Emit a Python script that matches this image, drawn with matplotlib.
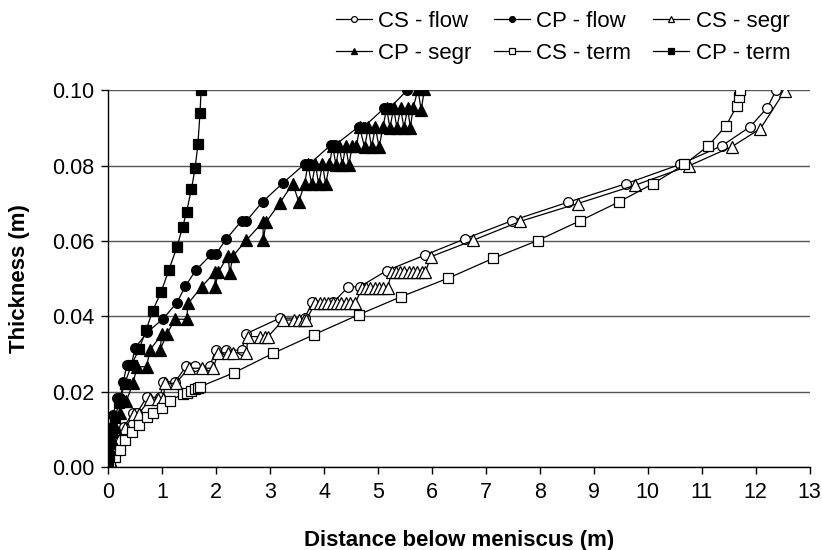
import matplotlib
matplotlib.use("Agg")
import matplotlib.pyplot as plt
from matplotlib.ticker import FormatStrFormatter

plt.rcParams['font.family'] = ['Liberation Sans', 'DejaVu Sans']

# ---- data: distance below meniscus (m) vs. shell thickness (m) ----
cs_flow_x = [0.00, 0.03, 0.09, 0.19, 0.29, 0.45, 0.53, 0.71, 0.96, 1.02, 1.24,
             1.44, 1.61, 1.88, 1.99, 2.19, 2.47, 2.56, 3.18, 3.64, 3.78, 4.17,
             4.45, 4.66, 5.16, 5.88, 6.62, 7.49, 8.53, 9.60, 10.60, 11.38,
             11.90, 12.22, 12.38]
cs_flow_y = [0.0000, 0.0020, 0.0045, 0.0072, 0.0106, 0.0143, 0.0143, 0.0185,
             0.0185, 0.0226, 0.0226, 0.0267, 0.0267, 0.0267, 0.0310, 0.0310,
             0.0310, 0.0354, 0.0395, 0.0395, 0.0437, 0.0437, 0.0478, 0.0478,
             0.0521, 0.0563, 0.0606, 0.0654, 0.0703, 0.0752, 0.0803, 0.0853,
             0.0903, 0.0954, 0.1000]

cp_flow_x = [0.00, 0.00, 0.00, 0.03, 0.06, 0.09, 0.16, 0.22, 0.28, 0.34, 0.43,
             0.49, 0.72, 1.02, 1.27, 1.43, 1.62, 1.91, 1.99, 2.18, 2.47, 2.56,
             2.86, 3.24, 3.64, 3.73, 4.12, 4.20, 4.64, 4.74, 5.12, 5.22, 5.54]
cp_flow_y = [0.0000, 0.0020, 0.0045, 0.0072, 0.0107, 0.0138, 0.0182, 0.0182,
             0.0226, 0.0270, 0.0270, 0.0315, 0.0357, 0.0394, 0.0436, 0.0480,
             0.0522, 0.0564, 0.0564, 0.0604, 0.0653, 0.0653, 0.0704, 0.0754,
             0.0804, 0.0804, 0.0854, 0.0854, 0.0903, 0.0903, 0.0953, 0.0953,
             0.1000]

cs_segr_x = [0.00, 0.03, 0.10, 0.20, 0.31, 0.48, 0.56, 0.77, 0.93, 1.02, 1.05,
             1.25, 1.49, 1.73, 1.94, 2.04, 2.22, 2.31, 2.56, 2.59, 2.81, 2.90,
             2.96, 3.24, 3.45, 3.53, 3.62, 3.67,
             3.83, 3.92, 4.00, 4.08, 4.16, 4.24, 4.32, 4.40, 4.48, 4.57,
             4.71, 4.78, 4.86, 4.94, 5.02, 5.10, 5.18,
             5.25, 5.33, 5.41, 5.49, 5.57, 5.65, 5.73, 5.81, 5.88,
             5.98, 6.77, 7.64, 8.70, 9.77, 10.76, 11.56, 12.09, 12.54]
cs_segr_y = [0.0000, 0.0019, 0.0045, 0.0072, 0.0104, 0.0140, 0.0140, 0.0180,
             0.0180, 0.0180, 0.0222, 0.0222, 0.0262, 0.0262, 0.0262, 0.0303,
             0.0303, 0.0303, 0.0303, 0.0346, 0.0346, 0.0346, 0.0346, 0.0390,
             0.0390, 0.0390, 0.0390, 0.0390,
             0.0434, 0.0434, 0.0434, 0.0434, 0.0434, 0.0434, 0.0434, 0.0434,
             0.0434, 0.0434,
             0.0474, 0.0474, 0.0474, 0.0474, 0.0474, 0.0474, 0.0474,
             0.0518, 0.0518, 0.0518, 0.0518, 0.0518, 0.0518, 0.0518, 0.0518,
             0.0518,
             0.0558, 0.0602, 0.0652, 0.0699, 0.0748, 0.0799, 0.0850, 0.0898,
             0.0998]

cp_segr_x = [0.00, 0.01, 0.04, 0.07, 0.12, 0.21, 0.27, 0.33, 0.46, 0.53, 0.71,
             0.77, 0.99, 0.96, 1.08, 1.24, 1.45, 1.48, 1.73, 1.98, 1.98, 2.04,
             2.22, 2.25, 2.31, 2.56, 2.87, 2.87, 2.93, 3.18, 3.42, 3.53, 3.64,
             3.70, 3.77, 3.84, 3.90, 3.97, 4.03, 4.10,
             4.16, 4.22, 4.28, 4.34, 4.40, 4.46, 4.52, 4.60,
             4.66, 4.75, 4.82, 4.88, 4.95, 5.02, 5.09,
             5.16, 5.22, 5.29, 5.35, 5.42, 5.48, 5.55, 5.60, 5.65,
             5.74, 5.80, 5.86]
cp_segr_y = [0.0000, 0.0022, 0.0045, 0.0072, 0.0107, 0.0142, 0.0174, 0.0174,
             0.0222, 0.0266, 0.0266, 0.0310, 0.0352, 0.0310, 0.0352, 0.0392,
             0.0392, 0.0434, 0.0478, 0.0518, 0.0478, 0.0518, 0.0560, 0.0515,
             0.0560, 0.0602, 0.0651, 0.0602, 0.0651, 0.0701, 0.0752, 0.0704,
             0.0752,
             0.0803, 0.0750, 0.0803, 0.0750, 0.0803, 0.0750, 0.0803,
             0.0852, 0.0801, 0.0852, 0.0801, 0.0852, 0.0801, 0.0852, 0.0852,
             0.0901, 0.0849, 0.0901, 0.0849, 0.0901, 0.0849, 0.0901,
             0.0952, 0.0900, 0.0952, 0.0900, 0.0952, 0.0900, 0.0952, 0.0900,
             0.0952,
             0.1002, 0.0947, 0.1002]

cs_term_x = [0.00, 0.03, 0.12, 0.22, 0.31, 0.43, 0.56, 0.71, 0.83, 0.99, 1.14,
             1.39, 1.45, 1.54, 1.60, 1.66, 1.70, 2.33, 3.06, 3.81, 4.64, 5.43,
             6.30, 7.14, 7.96, 8.74, 9.46, 10.10, 10.68, 11.12, 11.45, 11.65,
             11.69, 11.71]
cs_term_y = [0.0000, 0.0010, 0.0027, 0.0045, 0.0072, 0.0094, 0.0111, 0.0132,
             0.0142, 0.0156, 0.0176, 0.0194, 0.0197, 0.0202, 0.0207, 0.0210,
             0.0213, 0.0250, 0.0302, 0.0351, 0.0404, 0.0452, 0.0501, 0.0554,
             0.0601, 0.0653, 0.0703, 0.0752, 0.0803, 0.0852, 0.0905, 0.0958,
             0.0982, 0.1000]

cp_term_x = [0.00, 0.01, 0.03, 0.06, 0.12, 0.20, 0.30, 0.43, 0.57, 0.70, 0.82,
             0.98, 1.12, 1.27, 1.38, 1.45, 1.54, 1.61, 1.66, 1.70, 1.72]
cp_term_y = [0.0000, 0.0030, 0.0060, 0.0090, 0.0130, 0.0170, 0.0220, 0.0271,
             0.0313, 0.0363, 0.0414, 0.0465, 0.0522, 0.0583, 0.0638, 0.0677,
             0.0737, 0.0794, 0.0856, 0.0940, 0.1000]

x_ticks = list(range(0, 14))
y_ticks = [0.00, 0.02, 0.04, 0.06, 0.08, 0.10]

# ---- figure ----
fig = plt.figure(figsize=(8.22, 5.50), dpi=100)
ax = fig.add_axes([0.1318, 0.151, 0.853, 0.685])

lw = 0.9
common = dict(color='black', linewidth=lw, markeredgecolor='black',
              markeredgewidth=0.9)

h_csf, = ax.plot(cs_flow_x, cs_flow_y, marker='o', markersize=7,
                 markerfacecolor='white', label='CS - flow', **common)
h_cpf, = ax.plot(cp_flow_x, cp_flow_y, marker='o', markersize=7,
                 markerfacecolor='black', label='CP - flow', **common)
h_css, = ax.plot(cs_segr_x, cs_segr_y, marker='^', markersize=8,
                 markerfacecolor='white', label='CS - segr', **common)
h_cps, = ax.plot(cp_segr_x, cp_segr_y, marker='^', markersize=8,
                 markerfacecolor='black', label='CP - segr', **common)
h_cst, = ax.plot(cs_term_x, cs_term_y, marker='s', markersize=6.5,
                 markerfacecolor='white', label='CS - term', **common)
h_cpt, = ax.plot(cp_term_x, cp_term_y, marker='s', markersize=6.5,
                 markerfacecolor='black', label='CP - term', **common)

ax.set_xlim(0, 13)
ax.set_ylim(0, 0.10)
ax.set_xticks(x_ticks)
ax.set_yticks(y_ticks)
ax.yaxis.set_major_formatter(FormatStrFormatter('%.2f'))
ax.tick_params(axis='both', direction='out', length=5, width=1,
               labelsize=15.5, colors='black')
ax.tick_params(axis='x', pad=6)
ax.tick_params(axis='y', pad=5)

ax.grid(axis='y', color='#555555', linewidth=1)
ax.set_axisbelow(True)
for side in ('top', 'right'):
    ax.spines[side].set_visible(False)
for side in ('left', 'bottom'):
    ax.spines[side].set_color('black')
    ax.spines[side].set_linewidth(1)
    ax.spines[side].set_clip_on(False)

ax.set_xlabel('Distance below meniscus (m)', fontsize=16, fontweight='bold',
              labelpad=19)
ax.set_ylabel('Thickness (m)', fontsize=16, fontweight='bold', labelpad=16)

# legend filled row by row: 3 entries per row
handles = [h_csf, h_cps, h_cpf, h_cst, h_css, h_cpt]
fig.legend(handles=handles, labels=[h.get_label() for h in handles],
           loc='upper right', bbox_to_anchor=(0.975, 1.0), ncol=3,
           frameon=False, fontsize=16, markerscale=0.6, handlelength=1.6,
           handletextpad=0.3, columnspacing=1.0, labelspacing=0.5,
           borderaxespad=0.1)

fig.savefig('out.png', dpi=100)
